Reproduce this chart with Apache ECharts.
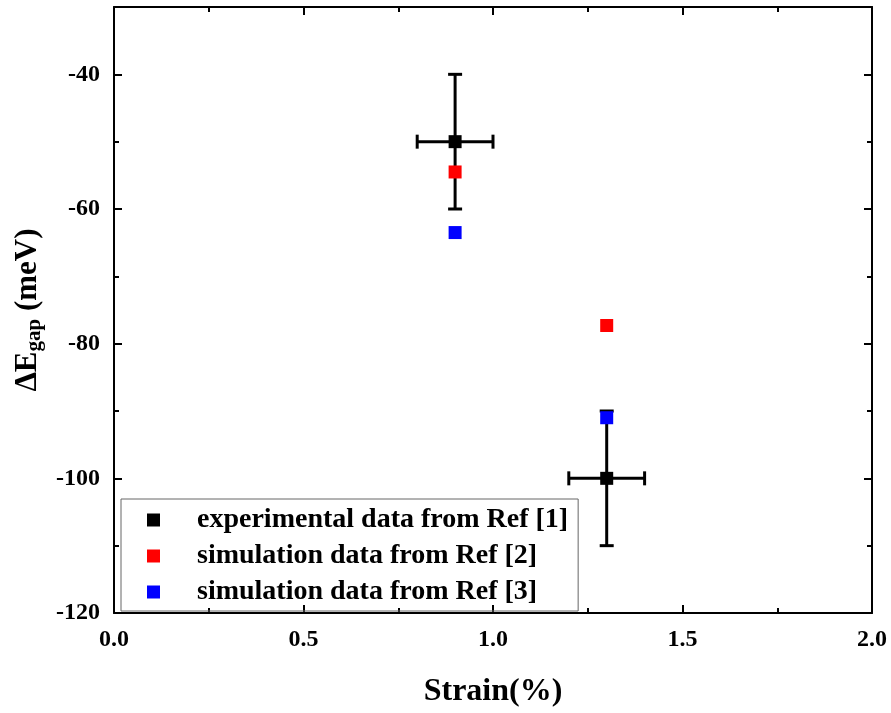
<!DOCTYPE html>
<html><head><meta charset="utf-8">
<script src="https://cdn.jsdelivr.net/npm/echarts@6/dist/echarts.min.js"></script>
<style>html,body{margin:0;padding:0;background:#fff}#c{width:891px;height:713px}</style>
</head><body><div id="c"></div>
<script>
// Data
const seriesNames = ['experimental data from Ref [1]', 'simulation data from Ref [2]', 'simulation data from Ref [3]'];
const strain = [0.9, 1.3];
const expValues = [-50, -100];
const expXErr = [0.1, 0.1];
const expYErr = [10, 10];
const sim2Values = [-54.5, -77.3];
const sim3Values = [-63.5, -91];
const colors = ['#000000', '#ff0000', '#0000ff'];

const FONT = '"Liberation Serif", "DejaVu Serif", serif';
const chart = echarts.init(document.getElementById('c'));

const errData = strain.map((x, i) => [x, expValues[i], expXErr[i], expYErr[i]]);

function axisCommon() {
  return {
    axisLine: { show: true, onZero: false, lineStyle: { color: '#000', width: 2 } },
    axisTick: { show: true, inside: true, length: 8, lineStyle: { color: '#000', width: 2 } },
    minorTick: { show: true, splitNumber: 2, length: 5, lineStyle: { color: '#000', width: 2 } },
    splitLine: { show: false }
  };
}

const option = {
  backgroundColor: '#fff',
  animation: false,
  grid: { left: 114, right: 19, top: 7, bottom: 97 },
  legend: {
    orient: 'vertical',
    left: 121, top: 499,
    width: 460,
    padding: [7, 10, 5, 26],
    itemGap: 8,
    itemWidth: 13, itemHeight: 13,
    borderColor: '#666', borderWidth: 1,
    data: seriesNames.map((n, i) => ({ name: n, icon: 'rect', itemStyle: { color: colors[i] } })),
    textStyle: { fontFamily: FONT, fontWeight: 'bold', fontSize: 28, color: '#000', padding: [0, 0, 0, 32] }
  },
  xAxis: [Object.assign(axisCommon(), {
    type: 'value', min: 0, max: 2, interval: 0.5,
    name: 'Strain(%)', nameLocation: 'middle', nameGap: 63,
    nameTextStyle: { fontFamily: FONT, fontWeight: 'bold', fontSize: 32, color: '#000' },
    axisLabel: { fontFamily: FONT, fontWeight: 'bold', fontSize: 24, color: '#000', margin: 15,
      formatter: v => v.toFixed(1) }
  }), Object.assign(axisCommon(), {
    type: 'value', min: 0, max: 2, interval: 0.5, position: 'top',
    axisLabel: { show: false }
  })],
  yAxis: [Object.assign(axisCommon(), {
    type: 'value', min: -120, max: -30, interval: 20,
    name: '{a|ΔE}{s|gap}{a| (meV)}', nameLocation: 'middle', nameGap: 68,
    nameTextStyle: { rich: {
      a: { fontFamily: FONT, fontWeight: 'bold', fontSize: 31, color: '#000' },
      s: { fontFamily: FONT, fontWeight: 'bold', fontSize: 21, color: '#000', verticalAlign: 'bottom', padding: [14, 0, 0, 0] }
    } },
    axisLabel: { fontFamily: FONT, fontWeight: 'bold', fontSize: 24, color: '#000', margin: 14, showMaxLabel: false }
  }), Object.assign(axisCommon(), {
    type: 'value', min: -120, max: -30, interval: 20, position: 'right',
    axisLabel: { show: false }
  })],
  series: [
    {
      type: 'custom', name: 'errorbars', z: 1,
      data: errData,
      encode: { x: 0, y: 1 },
      renderItem: function (params, api) {
        const x = api.value(0), y = api.value(1), dx = api.value(2), dy = api.value(3);
        const l = api.coord([x - dx, y]), r = api.coord([x + dx, y]);
        const t = api.coord([x, y + dy]), b = api.coord([x, y - dy]);
        const cap = 7;
        const st = { stroke: '#000', lineWidth: 3 };
        return { type: 'group', children: [
          { type: 'line', shape: { x1: l[0], y1: l[1], x2: r[0], y2: r[1] }, style: st },
          { type: 'line', shape: { x1: t[0], y1: t[1], x2: b[0], y2: b[1] }, style: st },
          { type: 'line', shape: { x1: l[0], y1: l[1] - cap, x2: l[0], y2: l[1] + cap }, style: st },
          { type: 'line', shape: { x1: r[0], y1: r[1] - cap, x2: r[0], y2: r[1] + cap }, style: st },
          { type: 'line', shape: { x1: t[0] - cap, y1: t[1], x2: t[0] + cap, y2: t[1] }, style: st },
          { type: 'line', shape: { x1: b[0] - cap, y1: b[1], x2: b[0] + cap, y2: b[1] }, style: st }
        ] };
      }
    },
    { type: 'scatter', name: seriesNames[0], symbol: 'rect', symbolSize: 13, z: 3,
      itemStyle: { color: colors[0], opacity: 1 }, data: strain.map((x, i) => [x, expValues[i]]) },
    { type: 'scatter', name: seriesNames[1], symbol: 'rect', symbolSize: 13, z: 3,
      itemStyle: { color: colors[1], opacity: 1 }, data: strain.map((x, i) => [x, sim2Values[i]]) },
    { type: 'scatter', name: seriesNames[2], symbol: 'rect', symbolSize: 13, z: 3,
      itemStyle: { color: colors[2], opacity: 1 }, data: strain.map((x, i) => [x, sim3Values[i]]) }
  ]
};
chart.setOption(option);
</script>
</body></html>
